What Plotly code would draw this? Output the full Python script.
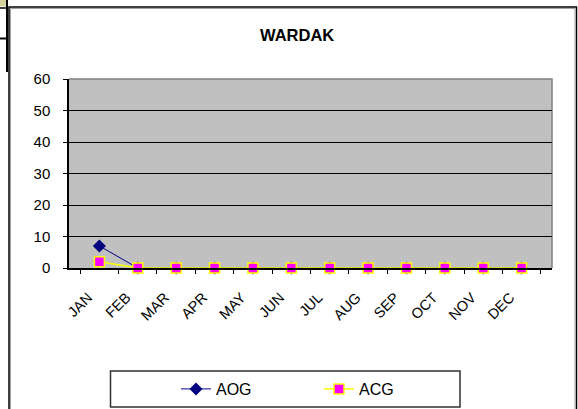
import plotly.graph_objects as go

months = ["JAN", "FEB", "MAR", "APR", "MAY", "JUN", "JUL", "AUG", "SEP", "OCT", "NOV", "DEC"]
aog = [7, 0, 0, 0, 0, 0, 0, 0, 0, 0, 0, 0]
acg = [2, 0, 0, 0, 0, 0, 0, 0, 0, 0, 0, 0]
y_ticks = [0, 10, 20, 30, 40, 50, 60]
title_text = "WARDAK"

W, H = 578, 409
L, R, T, B = 69, 552, 79, 268

def px(x):
    return (x - L) / (R - L)

def py(y):
    return (B - y) / (B - T)

fig = go.Figure()
fig.add_trace(go.Scatter(
    x=months, y=aog, name="AOG", mode="lines+markers", cliponaxis=False,
    line=dict(color="#000080", width=1),
    marker=dict(symbol="diamond", size=10, color="#000080"),
))
fig.add_trace(go.Scatter(
    x=months, y=acg, name="ACG", mode="lines+markers", cliponaxis=False,
    line=dict(color="#ffff00", width=1.5),
    marker=dict(symbol="square", size=10, color="#ff00ff", line=dict(color="#ffff00", width=1.5)),
))

shapes = []
# outer frame (left, top, right)
shapes.append(dict(type="path", xref="paper", yref="paper",
                   path=f"M {px(9)},{py(420)} L {px(9)},{py(7)} L {px(576.5)},{py(7)} L {px(576.5)},{py(420)}",
                   line=dict(color="black", width=1.5), layer="above"))
shapes.append(dict(type="path", xref="paper", yref="paper",
                   path=f"M {px(10.5)},{py(420)} L {px(10.5)},{py(8.5)} L {px(575)},{py(8.5)} L {px(575)},{py(420)}",
                   line=dict(color="#a0a0a0", width=1), layer="above"))
# top-left artifact
shapes.append(dict(type="rect", xref="paper", yref="paper",
                   x0=px(0), x1=px(6), y0=py(0), y1=py(6.5),
                   fillcolor="#d4d1a0", line=dict(width=0), layer="above"))
shapes.append(dict(type="line", xref="paper", yref="paper",
                   x0=px(7), x1=px(7), y0=py(0), y1=py(72),
                   line=dict(color="black", width=2), layer="above"))
shapes.append(dict(type="line", xref="paper", yref="paper",
                   x0=px(0), x1=px(7), y0=py(8), y1=py(8),
                   line=dict(color="black", width=1.5), layer="above"))
shapes.append(dict(type="line", xref="paper", yref="paper",
                   x0=px(0), x1=px(7), y0=py(38.5), y1=py(38.5),
                   line=dict(color="black", width=2), layer="above"))
# plot border top/right gray
shapes.append(dict(type="path", xref="paper", yref="paper",
                   path="M 0,1 L 1,1 L 1,0",
                   line=dict(color="#808080", width=1.5), layer="below"))
# legend box
shapes.append(dict(type="rect", xref="paper", yref="paper",
                   x0=px(110.5), x1=px(460), y0=py(371), y1=py(407),
                   line=dict(color="#303030", width=1.5), fillcolor="rgba(0,0,0,0)"))

fig.update_layout(
    width=W, height=H,
    margin=dict(l=L, r=W - R, t=T, b=H - B, autoexpand=False),
    paper_bgcolor="white",
    plot_bgcolor="#c0c0c0",
    font=dict(family="Arial, Liberation Sans, sans-serif", size=12, color="black"),
    showlegend=True,
    legend=dict(orientation="h", x=px(176), xanchor="left", y=py(389), yanchor="middle",
                font=dict(size=16), entrywidth=98, bgcolor="rgba(0,0,0,0)",
                itemclick=False),
    shapes=shapes,
    annotations=[dict(text=f"<b>{title_text}</b>", xref="paper", yref="paper",
                      x=px(297), y=py(35), showarrow=False, font=dict(size=16.5),
                      xanchor="center", yanchor="middle")],
)
fig.update_xaxes(type="category", categoryorder="array", categoryarray=months,
                 showline=True, linecolor="black", linewidth=2,
                 ticks="outside", tickson="boundaries", ticklen=4, tickcolor="black",
                 tickangle=-45, showgrid=False, tickfont=dict(size=14.5), automargin=False,
                 ticksuffix="\u00a0\u00a0\u00a0\u00a0", ticklabelstandoff=2)
fig.update_yaxes(range=[0, 60], tickvals=y_ticks, showline=True, linecolor="black", linewidth=1.5,
                 ticks="outside", ticklen=4, tickcolor="black",
                 showgrid=True, gridcolor="black", gridwidth=1, zeroline=False,
                 ticklabelstandoff=10, tickfont=dict(size=15), automargin=False)

fig.write_html("out.html", config={"displayModeBar": False},
               post_script="document.body.style.margin='0px';")
